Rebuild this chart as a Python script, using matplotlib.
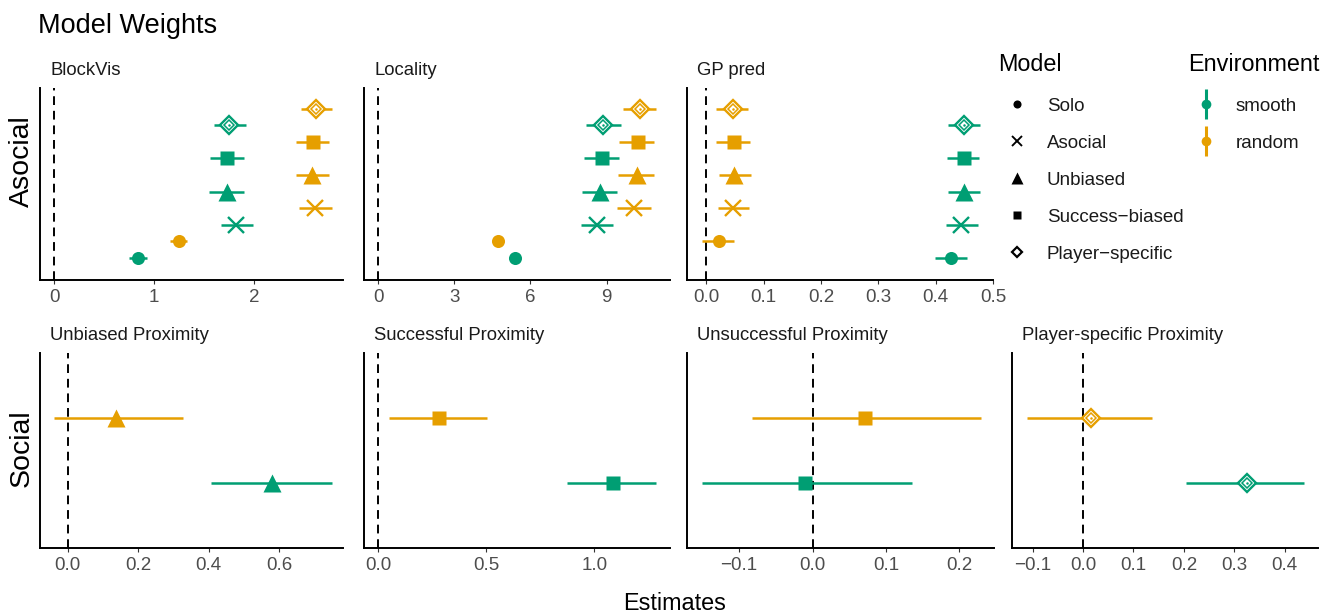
import matplotlib.pyplot as plt
import numpy as np

plt.rcParams['font.family'] = ['Liberation Sans', 'DejaVu Sans']

green = '#009E73'
orange = '#E69F00'

models = ['Solo', 'Asocial', 'Unbiased', 'Success-biased', 'Player-specific']
shapes = ['circle', 'x', 'triangle', 'square', 'diamond']
environments = ['smooth', 'random']

# asocial weights: one value per model (Solo .. Player-specific)
block_smooth = [0.84, 1.82, 1.73, 1.73, 1.75]
block_smooth_lo = [0.75, 1.67, 1.55, 1.56, 1.60]
block_smooth_hi = [0.93, 1.99, 1.90, 1.90, 1.92]
block_random = [1.25, 2.61, 2.58, 2.59, 2.62]
block_random_lo = [1.16, 2.45, 2.42, 2.42, 2.47]
block_random_hi = [1.33, 2.78, 2.75, 2.75, 2.78]

loc_smooth = [5.38, 8.61, 8.74, 8.81, 8.87]
loc_smooth_lo = [5.22, 7.98, 8.03, 8.11, 8.17]
loc_smooth_hi = [5.54, 9.26, 9.42, 9.49, 9.55]
loc_random = [4.74, 10.08, 10.18, 10.22, 10.32]
loc_random_lo = [4.58, 9.43, 9.47, 9.50, 9.63]
loc_random_hi = [4.90, 10.74, 10.88, 10.88, 10.95]

gp_smooth = [0.426, 0.445, 0.449, 0.449, 0.449]
gp_smooth_lo = [0.398, 0.418, 0.422, 0.420, 0.422]
gp_smooth_hi = [0.454, 0.473, 0.478, 0.476, 0.478]
gp_random = [0.021, 0.047, 0.048, 0.048, 0.047]
gp_random_lo = [-0.008, 0.020, 0.021, 0.017, 0.017]
gp_random_hi = [0.048, 0.075, 0.077, 0.076, 0.073]

# social weights: [smooth, random]
social_titles = ['Unbiased Proximity', 'Successful Proximity',
                 'Unsuccessful Proximity', 'Player-specific Proximity']
social_shapes = ['triangle', 'square', 'square', 'diamond']
social_mean = [[0.580, 0.137], [1.085, 0.280], [-0.0105, 0.0714], [0.325, 0.0166]]
social_lo = [[0.406, -0.038], [0.875, 0.050], [-0.151, -0.082], [0.205, -0.112]]
social_hi = [[0.750, 0.326], [1.286, 0.505], [0.136, 0.229], [0.439, 0.136]]

W, H = 1336, 616
fig = plt.figure(figsize=(W / 100, H / 100), dpi=100)


def px_axes(x0, y0, x1, y1):
    return fig.add_axes([x0 / W, 1 - y1 / H, (x1 - x0) / W, (y1 - y0) / H])


def draw_point(ax, x, y, shape, color, scale=1.0, legend=False):
    if shape == 'circle':
        ax.plot(x, y, 'o', ms=9.4 * scale, color=color, mec='none', zorder=4)
    elif shape == 'x':
        ax.plot(x, y, 'x', ms=11 * scale, mew=1.7 * max(scale, 0.8), color=color, zorder=4)
    elif shape == 'triangle':
        ax.plot(x, y, '^', ms=12.8 * scale, color=color, mec='none', zorder=4)
    elif shape == 'square':
        ax.plot(x, y, 's', ms=10.4 * scale, color=color, mec='none', zorder=4)
    elif shape == 'diamond':
        if legend:
            ax.plot(x, y, 'D', ms=8.8 * scale, mfc='white', mec=color, mew=1.6, zorder=4)
            return
        ax.plot(x, y, 'D', ms=9 * scale, mfc='white', mec=color, mew=1.7, zorder=4)
        ax.plot(x, y, 'D', ms=4.6 * scale, mfc='white', mec=color, mew=1.1, zorder=5)
        ax.plot(x, y, 'o', ms=1.8 * scale, color=color, mec='none', zorder=6)


def style_axes(ax, title, xlim, ylim, ticks, labels):
    ax.set_xlim(*xlim)
    ax.set_ylim(*ylim)
    ax.axvline(0, color='black', lw=1.4, ls=(0, (4.5, 3)), zorder=2)
    ax.set_xticks(ticks)
    ax.set_xticklabels(labels)
    ax.set_yticks([])
    for s in ['top', 'right']:
        ax.spines[s].set_visible(False)
    for s in ['left', 'bottom']:
        ax.spines[s].set_linewidth(1.4)
        ax.spines[s].set_color('black')
    ax.tick_params(axis='x', length=2.9, width=0.8, color='#333333',
                   labelsize=13.5, labelcolor='#4D4D4D', pad=3.5)
    ax.annotate(title, xy=(0, 1), xycoords='axes fraction', xytext=(7.5, 9.5),
                textcoords='offset points', ha='left', va='baseline',
                fontsize=13.3, color='#1A1A1A')


# top row
top_panels = [
    ('BlockVis', (40, 343), (-0.14, 2.89), [0, 1, 2], ['0', '1', '2'],
     block_smooth, block_smooth_lo, block_smooth_hi,
     block_random, block_random_lo, block_random_hi),
    ('Locality', (364, 670), (-0.56, 11.5), [0, 3, 6, 9], ['0', '3', '6', '9'],
     loc_smooth, loc_smooth_lo, loc_smooth_hi,
     loc_random, loc_random_lo, loc_random_hi),
    ('GP pred', (687, 993), (-0.034, 0.5), [0, 0.1, 0.2, 0.3, 0.4, 0.5],
     ['0.0', '0.1', '0.2', '0.3', '0.4', '0.5'],
     gp_smooth, gp_smooth_lo, gp_smooth_hi,
     gp_random, gp_random_lo, gp_random_hi),
]

ypos = np.arange(1, len(models) + 1)
for (title, (x0, x1), xlim, ticks, labels, sm, slo, shi, rm, rlo, rhi) in top_panels:
    ax = px_axes(x0, 88, x1, 280)
    style_axes(ax, title, xlim, (0.09, 5.87), ticks, labels)
    for env, m, lo, hi, off, col in [('smooth', sm, slo, shi, -0.25, green),
                                     ('random', rm, rlo, rhi, 0.25, orange)]:
        ys = ypos + off
        ax.hlines(ys, lo, hi, color=col, lw=1.8, zorder=3)
        for i in range(len(models)):
            draw_point(ax, m[i], ys[i], shapes[i], col)

# bottom row
bottom_x = [(40, 343), (364, 670), (687, 994), (1012, 1318)]
bottom_xlim = [(-0.078, 0.78), (-0.066, 1.35), (-0.171, 0.247), (-0.141, 0.466)]
bottom_ticks = [[0, 0.2, 0.4, 0.6], [0, 0.5, 1.0], [-0.1, 0, 0.1, 0.2],
                [-0.1, 0, 0.1, 0.2, 0.3, 0.4]]
bottom_labels = [['0.0', '0.2', '0.4', '0.6'], ['0.0', '0.5', '1.0'],
                 ['\u22120.1', '0.0', '0.1', '0.2'],
                 ['\u22120.1', '0.0', '0.1', '0.2', '0.3', '0.4']]
for k in range(4):
    ax = px_axes(bottom_x[k][0], 353, bottom_x[k][1], 548)
    style_axes(ax, social_titles[k], bottom_xlim[k], (-3, 3),
               bottom_ticks[k], bottom_labels[k])
    for j, (y, col) in enumerate([(-1, green), (1, orange)]):
        ax.hlines(y, social_lo[k][j], social_hi[k][j], color=col, lw=1.8, zorder=3)
        draw_point(ax, social_mean[k][j], y, social_shapes[k], col)

# texts
fig.text(38 / W, 1 - 33 / H, 'Model Weights', fontsize=19.5, ha='left', va='baseline')
fig.text(22 / W, 1 - 161 / H, 'Asocial', fontsize=20.5, rotation=90, ha='center', va='center')
fig.text(22 / W, 1 - 448 / H, 'Social', fontsize=20.5, rotation=90, ha='center', va='center')
fig.text(675 / W, 1 - 610 / H, 'Estimates', fontsize=16.8, ha='center', va='baseline')

# legends
lg = fig.add_axes([0, 0, 1, 1])
lg.set_xlim(0, W)
lg.set_ylim(H, 0)
lg.axis('off')
lg.text(998, 71, 'Model', fontsize=16.8, ha='left', va='baseline')
leg_y = [104, 141, 178, 215, 252]
for i in range(len(models)):
    draw_point(lg, 1017, leg_y[i], shapes[i], 'black', scale=0.62, legend=True)
    lg.text(1047, leg_y[i] + 7, models[i].replace('-', '\u2212'), fontsize=13.5,
            ha='left', va='baseline', color='#1A1A1A')
lg.text(1188, 71, 'Environment', fontsize=16.8, ha='left', va='baseline')
for y, env, col in [(104, 'smooth', green), (141, 'random', orange)]:
    lg.vlines(1206, y - 15, y + 15, color=col, lw=2.2)
    lg.plot(1206, y, 'o', ms=7, color=col, mec='none')
    lg.text(1236, y + 7, env, fontsize=13.5, ha='left', va='baseline', color='#1A1A1A')

fig.savefig('out.png', dpi=100, facecolor='white')
